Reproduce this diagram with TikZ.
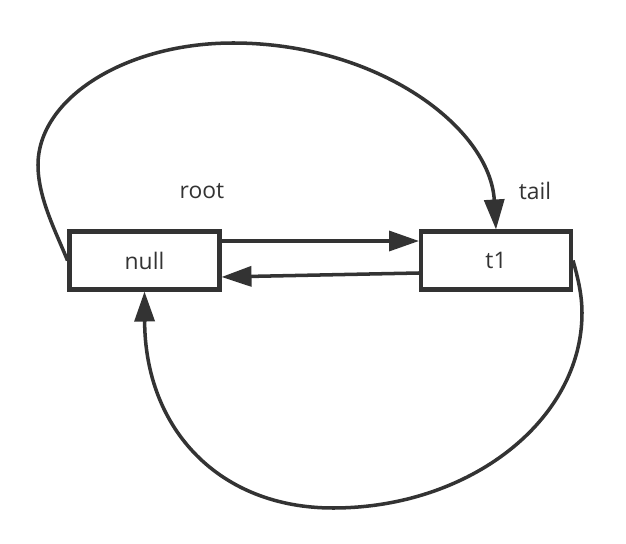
\documentclass[tikz,border=0pt]{standalone}
\usepackage{fontspec}
\setmainfont{Open Sans}
\usetikzlibrary{arrows.meta}
\definecolor{ink}{HTML}{333333}
\tikzset{
  box/.style={draw=ink, line width=2.3pt, minimum width=3cm, minimum height=1.16cm,
    inner sep=0pt, text=ink, font=\fontsize{13}{15}\selectfont},
  lbl/.style={text=ink, font=\fontsize{13}{15}\selectfont},
  link/.style={draw=ink, line width=2pt, -{Triangle[length=0.6cm,width=0.4cm]}}
}
\begin{document}
\begin{tikzpicture}[x=0.02cm,y=-0.02cm]
  \useasboundingbox (0,0) rectangle (626,544);

  \node[box] (null) at (144.5,260.5) {null};
  \node[box] (t1) at (496,260.5) {t1};
  \node[lbl] (root) at (202,191) {root};
  \node[lbl] (tail) at (535,191) {tail};

  % next / prev
  \draw[link] ([yshift=0.39cm]null.east) -- ([yshift=0.39cm]t1.west);
  \draw[link] ([yshift=-0.25cm]t1.west) -- ([yshift=-0.33cm]null.east);

  % loops round the outside
  \draw[link] (null.west) .. controls (56,232) and (38,198) .. (38,165)
     .. controls (38,98) and (126,43) .. (233,43)
     .. controls (377,43) and (490,127) .. (t1.north);
  \draw[link] (t1.east) .. controls (578,278) and (582,295) .. (582,313)
     .. controls (582,420) and (470,508) .. (333,508)
     .. controls (220,508) and (145,430) .. (null.south);
\end{tikzpicture}
\end{document}
